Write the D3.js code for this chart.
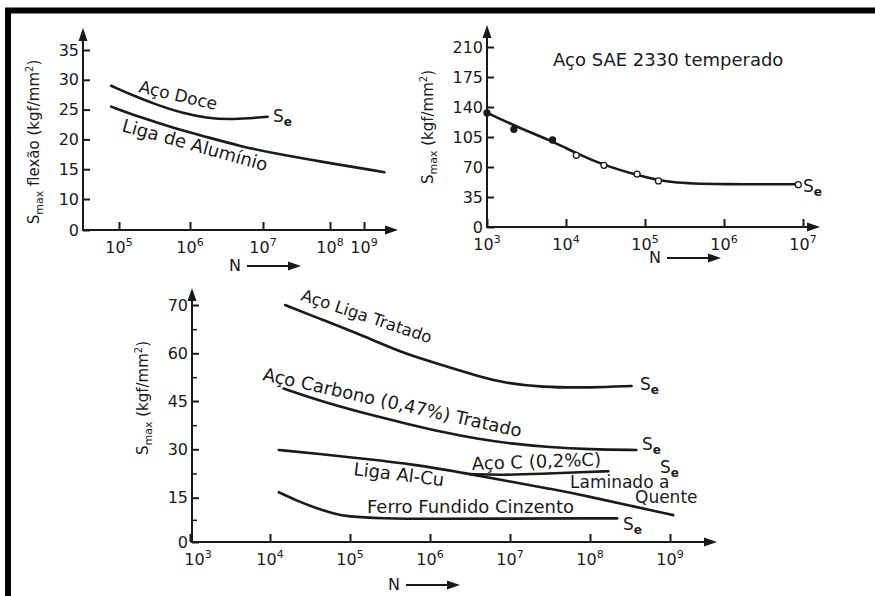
<!DOCTYPE html>
<meta charset="utf-8">
<script src="https://d3js.org/d3.v7.min.js"></script>
<style>
  body { margin: 0; background: #fff; }
  text { font-family: "DejaVu Sans", "Liberation Sans", Arial, sans-serif; fill: #1a1a1a; }
</style>
<body>
<script>
// ---- data: x values are log10(N), y values in kgf/mm2 ----

// top left panel (Smax flexao)
var tlYTicks = [0, 10, 15, 20, 25, 30, 35];
var tlXTicks = [5, 6, 7, 8, 9];
var acoDoceN = [4.89, 5.19, 5.53, 5.89, 6.22, 6.57, 7.07];
var acoDoceS = [29.0, 27.4, 25.8, 24.4, 23.6, 23.3, 23.8];
var ligaAlN = [4.89, 5.30, 5.77, 6.23, 6.68, 7.14, 7.85, 9.6];
var ligaAlS = [25.5, 23.7, 21.9, 20.4, 18.9, 17.7, 16.3, 14.5];

// top right panel (Aco SAE 2330 temperado)
var trYTicks = [0, 35, 70, 105, 140, 175, 210];
var trXTicks = [3, 4, 5, 6, 7];
var saePtsN = [3.0, 3.34, 3.83, 4.13, 4.48, 4.90, 5.17, 6.94];
var saePtsS = [133, 114, 101.5, 83.6, 72, 61.8, 53.7, 49.4];
var saePtsFilled = [1, 1, 1, 0, 0, 0, 0, 0];
var saeN = [3.0, 3.42, 3.84, 4.13, 4.48, 4.89, 5.32, 5.95, 6.96];
var saeS = [133.3, 115.1, 99.5, 86, 72, 60.7, 51, 49.8, 49.8];

// bottom panel
var bYTicks = [0, 15, 30, 45, 60, 70];
var bYMinor = [7.5, 22.5, 37.5, 52.5, 65];
var bXTicks = [3, 4, 5, 6, 7, 8, 9];
var ligaTratN = [4.19, 4.6, 5.17, 5.7, 6.25, 6.6, 6.9, 7.4, 8.0, 8.52];
var ligaTratS = [70, 67.3, 63.6, 59.6, 55.6, 52.8, 50.8, 49.3, 49.2, 49.7];
var carbonoN = [4.17, 4.6, 5.17, 5.7, 6.125, 6.6, 7.0, 7.5, 8.0, 8.58];
var carbonoS = [48.9, 45.2, 41.2, 38, 35.5, 33.2, 31.8, 30.6, 30, 29.8];
var alCuN = [4.11, 4.6, 5.2, 5.8, 6.4, 7.0, 7.5, 8.0, 8.5, 9.04];
var alCuS = [29.8, 28.6, 27, 25.3, 22.8, 20, 17.8, 15.3, 12.3, 9.1];
var acoCN = [6.5, 6.9, 7.4, 7.9, 8.23];
var acoCS = [22.3, 22.0, 22.4, 22.9, 23.2];
var ferroN = [4.11, 4.35, 4.58, 4.8, 4.96, 5.4, 6, 7, 8, 8.34];
var ferroS = [16.7, 13.8, 11.4, 9.6, 8.6, 8.0, 7.8, 7.9, 8.0, 8.0];

var ink = "#1a1a1a";

var svg = d3.select("body").append("svg")
    .attr("width", 875)
    .attr("height", 596);

// black frame, only left and top edges are inside the picture
svg.append("rect")
    .attr("x", 8).attr("y", 10.5)
    .attr("width", 900).attr("height", 700)
    .attr("fill", "none").attr("stroke", "#000").attr("stroke-width", 6);

function zip(a, b) { return a.map(function(d, i) { return [d, b[i]]; }); }

function arrowUp(x, y) {
  svg.append("path").attr("d", "M" + x + "," + y + "l-4.5,13h9z").attr("fill", ink);
}
function arrowRight(x, y) {
  svg.append("path").attr("d", "M" + x + "," + y + "l-13,-4.5v9z").attr("fill", ink);
}

// axes for one panel
function drawPanel(p) {
  var g = svg.append("g");
  // axis lines
  g.append("line").attr("x1", p.ox).attr("y1", p.oy).attr("x2", p.ox).attr("y2", p.top + 4)
      .attr("stroke", ink).attr("stroke-width", 2);
  g.append("line").attr("x1", p.ox - 1).attr("y1", p.oy).attr("x2", p.right - 4).attr("y2", p.oy)
      .attr("stroke", ink).attr("stroke-width", 2);
  arrowUp(p.ox, p.top);
  arrowRight(p.right, p.oy);

  // y ticks (pointing inside)
  var ya = g.append("g").attr("transform", "translate(" + p.ox + ",0)")
      .call(d3.axisLeft(p.y).tickValues(p.yTicks).tickSize(-7).tickSizeOuter(0).tickPadding(4));
  ya.select(".domain").remove();
  ya.selectAll("line").attr("stroke", ink).attr("stroke-width", 2);
  ya.selectAll("text").attr("font-size", 16).attr("font-family", null).style("fill", ink);
  if (p.yMinor) {
    var ym = g.append("g").attr("transform", "translate(" + p.ox + ",0)")
        .call(d3.axisLeft(p.y).tickValues(p.yMinor).tickSize(-5).tickFormat(""));
    ym.select(".domain").remove();
    ym.selectAll("line").attr("stroke", ink).attr("stroke-width", 1.5);
  }

  // x ticks (pointing up) and 10^n labels
  var xa = g.append("g").attr("transform", "translate(0," + p.oy + ")")
      .call(d3.axisBottom(p.x).tickValues(p.xTicks).tickSize(-8).tickFormat(""));
  xa.select(".domain").remove();
  xa.selectAll("line").attr("stroke", ink).attr("stroke-width", 2);
  p.xTicks.forEach(function(t) {
    var tx = g.append("text")
        .attr("x", p.x(t) + (p.labelShift && t === p.xTicks[0] ? p.labelShift : 0))
        .attr("y", p.oy + 23)
        .attr("text-anchor", "middle")
        .attr("font-size", 16);
    tx.append("tspan").text("10");
    tx.append("tspan").attr("dy", -7).attr("font-size", 11).text(t);
  });

  // N --->
  svg.append("text").attr("x", p.nx).attr("y", p.ny).attr("font-size", 16).text("N");
  svg.append("line").attr("x1", p.nx + 18).attr("y1", p.ny - 5).attr("x2", p.nx + 64).attr("y2", p.ny - 5)
      .attr("stroke", ink).attr("stroke-width", 1.8);
  arrowRight(p.nx + 72, p.ny - 5);

  // rotated y label: S_max ... (kgf/mm2)
  var yl = svg.append("text")
      .attr("transform", "translate(" + p.lx + "," + p.ly + ") rotate(-90)")
      .attr("text-anchor", "middle")
      .attr("font-size", 15);
  yl.append("tspan").text("S");
  yl.append("tspan").attr("font-size", 11).attr("dy", 4).text("max");
  yl.append("tspan").attr("dy", -4).text(p.lmid + "(kgf/mm");
  yl.append("tspan").attr("font-size", 10).attr("dy", -6).text("2");
  yl.append("tspan").attr("dy", 6).text(")");
}

function curve(p, xs, ys) {
  var line = d3.line()
      .x(function(d) { return p.x(d[0]); })
      .y(function(d) { return p.y(d[1]); })
      .curve(d3.curveBasis);
  svg.append("path").attr("d", line(zip(xs, ys)))
      .attr("fill", "none").attr("stroke", ink).attr("stroke-width", 2.6)
      .attr("stroke-linecap", "round");
}

function label(txt, x, y, angle, size) {
  svg.append("text")
      .attr("transform", "translate(" + x + "," + y + ") rotate(" + (angle || 0) + ")")
      .attr("font-size", size || 18)
      .text(txt);
}

function se(x, y) {
  var t = svg.append("text").attr("x", x).attr("y", y).attr("font-size", 17);
  t.append("tspan").text("S");
  t.append("tspan").attr("dy", 4).attr("font-size", 12).attr("font-weight", "bold").text("e");
}

// ---- top left ----
var tl = {
  x: d3.scaleLinear().domain([5, 6, 7, 8, 9]).range([119, 190, 263, 330, 364]),
  y: d3.scaleLinear().domain([0, 10, 35]).range([230, 199, 50]),
  ox: 83, oy: 230, top: 28, right: 398,
  yTicks: tlYTicks, xTicks: tlXTicks,
  nx: 229, ny: 271, lx: 39, ly: 142, lmid: " flexão "
};
drawPanel(tl);
curve(tl, acoDoceN, acoDoceS);
curve(tl, ligaAlN, ligaAlS);
label("Aço Doce", 138, 92, 13, 17);
label("Liga de Alumínio", 121, 131, 15.5, 18);
se(273, 122);

// ---- top right ----
var tr = {
  x: d3.scaleLinear().domain([3, 7]).range([487, 803]),
  y: d3.scaleLinear().domain([0, 210]).range([227, 47]),
  ox: 487, oy: 227, top: 25, right: 820,
  yTicks: trYTicks, xTicks: trXTicks,
  nx: 649, ny: 263, lx: 433, ly: 127, lmid: " "
};
drawPanel(tr);
curve(tr, saeN, saeS);
svg.append("g").selectAll("circle")
  .data(zip(saePtsN, saePtsS))
  .enter().append("circle")
    .attr("cx", function(d) { return tr.x(d[0]); })
    .attr("cy", function(d) { return tr.y(d[1]); })
    .attr("r", 3)
    .attr("fill", function(d, i) { return saePtsFilled[i] ? ink : "#fff"; })
    .attr("stroke", ink).attr("stroke-width", 1.3);
label("Aço SAE 2330 temperado", 553, 66, 0, 18);
se(803, 192);

// ---- bottom ----
var bt = {
  x: d3.scaleLinear().domain([3, 9]).range([190, 670]),
  y: d3.scaleLinear().domain([0, 15, 30, 45, 60, 70]).range([542, 497.7, 449.3, 401, 353.3, 305]),
  ox: 192, oy: 542, top: 288, right: 717,
  yTicks: bYTicks, yMinor: bYMinor, xTicks: bXTicks, labelShift: 8,
  nx: 388, ny: 590, lx: 148, ly: 398, lmid: " "
};
drawPanel(bt);
curve(bt, ligaTratN, ligaTratS);
curve(bt, carbonoN, carbonoS);
curve(bt, alCuN, alCuS);
curve(bt, acoCN, acoCS);
curve(bt, ferroN, ferroS);
label("Aço Liga Tratado", 300, 300, 18.5, 16.5);
label("Aço Carbono (0,47%) Tratado", 262, 380, 12.5);
label("Liga Al-Cu", 353, 475, 7);
label("Aço C (0,2%C)", 472, 470, -2);
label("Laminado a", 570, 488, 0, 17);
label("Quente", 635, 503, 0, 17);
label("Ferro Fundido Cinzento", 367, 513, 0);
se(640, 390);
se(642, 450);
se(660, 473);
se(623, 530);
</script>
</body>
